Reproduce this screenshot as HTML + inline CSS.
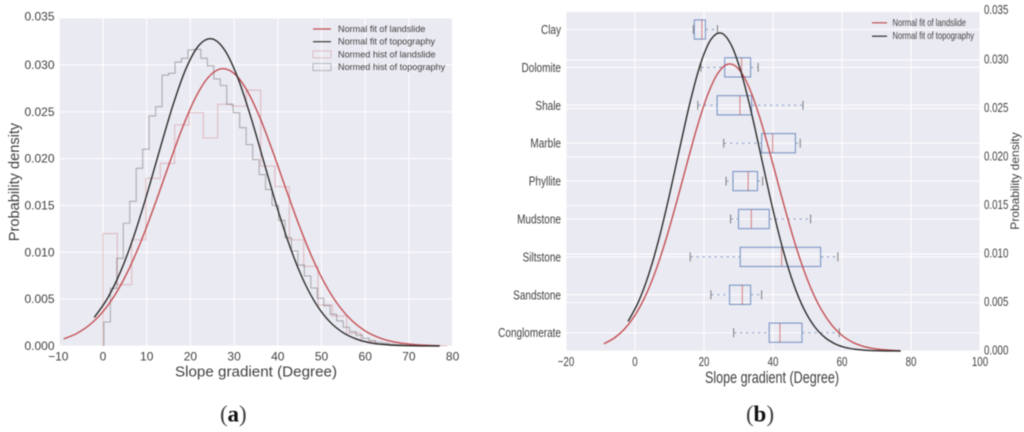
<!DOCTYPE html>
<html>
<head>
<meta charset="utf-8">
<style>
html,body{margin:0;padding:0;background:#fff;width:1024px;height:432px;overflow:hidden}
svg{display:block;filter:blur(0.5px)}
text{font-family:"Liberation Sans",sans-serif;fill:#3f3f3f}
</style>
</head>
<body>
<svg id="root" xmlns="http://www.w3.org/2000/svg" width="1024" height="432" viewBox="0 0 1024 432"></svg>
<script>
// Shared normal-fit curve readings
var topoCurveX = [-2,1,4,7,10,13,16,19,22,25,28,31,34,37,40,43,46,49,52,55,58,61,64,67,70,73,77];
var topoCurveY = [.00305,.00507,.00792,.01164,.01611,.02097,.02569,.02961,.03211,.03277,.03147,.02843,.02417,.01934,.01455,.01031,.00687,.00431,.00254,.00141,.00074,.00036,.00017,.00007,.00003,.00001,0];
var slideCurveX = [-9,-6,-3,0,3,6,9,12,15,18,21,24,27,30,33,36,39,42,45,48,51,54,57,60,63,66,69,72,75,77];
var slideCurveY = [.00075,.00134,.00228,.00368,.00566,.00828,.01153,.01527,.01924,.02308,.02635,.02862,.02958,.02909,.02723,.02426,.02056,.01658,.01273,.0093,.00646,.00427,.00269,.00161,.00092,.0005,.00026,.00013,.00006,.00003];

// Panel (a) histograms
var slideHistStart = 0;
var slideHistWidth = 3.28;
var slideHist = [.0120,.00654,.01134,.0179,.0195,.0236,.0249,.0222,.0258,.0256,.0273,.0192,.0170,.01134,.0085,.00438,.0032,.00135,.0005,.0002,.0001,.00005,.00003,.00002];
var topoHistStart = 0.2;
var topoHistWidth = 1.48;
var topoHist = [.00256,.00616,.00936,.0131,.01544,.01896,.0210,.02455,.02554,.0289,.0291,.0303,.0307,.0316,.03166,.0307,.0299,.0285,.0278,.0258,.0249,.0233,.0215,.0199,.0183,.0167,.0150,.0134,.01156,.01014,.00864,.00747,.00619,.00509,.0043,.00338,.00267,.0020,.00153,.00114,.00082,.00057,.0004,.0003,.0002,.00015,.0001,.00008,.00005,.00004,.00003,.00002];

// Panel tick labels
var aXTicks = [-10,0,10,20,30,40,50,60,70,80];
var bXTicks = [-20,0,20,40,60,80,100];
var densityTicks = [0,.005,.010,.015,.020,.025,.030,.035];

// Panel (b) boxplots
var lithology = ["Clay","Dolomite","Shale","Marble","Phyllite","Mudstone","Siltstone","Sandstone","Conglomerate"];
var whiskerLow = [16.9,19.1,18.2,25.7,26.4,27.7,16,22,28.6];
var quartile1 = [17.2,26,23.8,36.7,28.4,30,30.5,27.4,38.9];
var medians = [19.4,30.9,30.4,39.9,32.8,33.7,42.5,31.1,42];
var quartile3 = [20.4,33.5,33.8,46.5,35.5,38.9,53.8,33.5,48.4];
var whiskerHigh = [23.9,35.7,48.7,47.9,37,50.9,58.8,36.7,59.2];

var RED = "#c44e52", DARK = "#2b2b2b", BLUE = "#4c72b0";
var SERIF = '"Liberation Serif",serif';
var NS = "http://www.w3.org/2000/svg";
var root = document.getElementById("root");

function node(tag, attrs, name, parent) {
  var el = document.createElementNS(NS, tag);
  for (var k in attrs) el.setAttribute(k, attrs[k]);
  
  
  (parent || root).appendChild(el);
  return el;
}
function label(str, x, y, size, anchor, name, sx, rot) {
  var t = "translate(" + x + "," + y + ")" + (rot ? " rotate(" + rot + ")" : "") + " scale(" + (sx || 1) + ",1)";
  var el = node("text", {transform: t, "font-size": size, "text-anchor": anchor || "middle"}, name);
  el.textContent = str;
  return el;
}
function smooth(xs, ys, sx, sy) {
  var p = xs.map(function (x, i) { return [sx(x), sy(ys[i])]; });
  var d = "M" + p[0][0].toFixed(2) + " " + p[0][1].toFixed(2);
  for (var i = 0; i < p.length - 1; i++) {
    var a = p[i ? i - 1 : 0], b = p[i], c = p[i + 1], e = p[i + 2] || c;
    d += "C" + (b[0] + (c[0] - a[0]) / 6).toFixed(2) + " " + (b[1] + (c[1] - a[1]) / 6).toFixed(2) + " " +
      (c[0] - (e[0] - b[0]) / 6).toFixed(2) + " " + (c[1] - (e[1] - b[1]) / 6).toFixed(2) + " " +
      c[0].toFixed(2) + " " + c[1].toFixed(2);
  }
  return d;
}
function histPath(start, width, vals, sx, sy) {
  var d = "M" + sx(start).toFixed(2) + " " + sy(0).toFixed(2);
  vals.forEach(function (v, i) {
    d += "L" + sx(start + i * width).toFixed(2) + " " + sy(v).toFixed(2);
    d += "L" + sx(start + (i + 1) * width).toFixed(2) + " " + sy(v).toFixed(2);
  });
  d += "L" + sx(start + vals.length * width).toFixed(2) + " " + sy(0).toFixed(2);
  return d;
}

/* ---------- Panel (a) ---------- */
function ax(v) { return 103 + v * 4.37; }
function ay(v) { return 346 - v * 9370; }
node("rect", {x: 59.5, y: 18, width: 393.5, height: 328, fill: "#eaeaf2"}, "panel-a-plot-area");
aXTicks.forEach(function (t) {
  node("line", {x1: ax(t), x2: ax(t), y1: 18, y2: 346, stroke: "#fff", "stroke-width": 1}, "panel-a-x-gridline");
  label(String(t).replace("-", "\u2212"), ax(t) - (t < 0 ? 1 : 0), 360.5, 12, "middle", "panel-a-x-tick-label");
});
densityTicks.forEach(function (t) {
  node("line", {x1: 59.5, x2: 453, y1: ay(t), y2: ay(t), stroke: "#fff", "stroke-width": 1}, "panel-a-y-gridline");
  label(t.toFixed(3), 54.5, ay(t) + (t > .034 ? 2.2 : 4), 12, "end", "panel-a-y-tick-label");
});
node("path", {d: histPath(slideHistStart, slideHistWidth, slideHist, ax, ay), fill: "none", stroke: RED, "stroke-opacity": .3, "stroke-width": 1.1}, "landslide-histogram");
node("path", {d: histPath(topoHistStart, topoHistWidth, topoHist, ax, ay), fill: "none", stroke: "#333", "stroke-opacity": .35, "stroke-width": 1.1}, "topography-histogram");
node("path", {d: smooth(slideCurveX, slideCurveY, ax, ay), fill: "none", stroke: RED, "stroke-width": 1.4}, "landslide-normal-fit");
node("path", {d: smooth(topoCurveX, topoCurveY, ax, ay), fill: "none", stroke: DARK, "stroke-width": 1.4}, "topography-normal-fit");
label("Slope gradient (Degree)", 256, 376.5, 15.2, "middle", "panel-a-x-axis-title");
label("Probability density", 19, 182, 14.6, "middle", "panel-a-y-axis-title", 1, -90);

var legendA = ["Normal fit of landslide", "Normal fit of topography", "Normed hist of landslide", "Normed hist of topography"];
legendA.forEach(function (s, i) {
  var y = 29 + i * 12.7;
  if (i < 2) {
    node("line", {x1: 313, x2: 331, y1: y, y2: y, stroke: i ? DARK : RED, "stroke-width": 1.2}, "legend-a-line");
  } else {
    node("rect", {x: 313, y: y - 3.5, width: 18, height: 7, fill: "none", stroke: i === 2 ? RED : "#333", "stroke-opacity": .3, "stroke-width": 1}, "legend-a-swatch");
  }
  label(s, 338, y + 3, 9.1, "start", "legend-a-entry");
});
label("(", 220, 421.5, 23, "start", "panel-a-caption-open").style.fontFamily = SERIF;
var capA = label("a", 227.5, 421.5, 23, "start", "panel-a-caption-letter");
capA.style.fontFamily = SERIF; capA.style.fontWeight = "bold"; capA.style.fill = "#111";
label(")", 239, 421.5, 23, "start", "panel-a-caption-close").style.fontFamily = SERIF;

/* ---------- Panel (b) ---------- */
function bx(v) { return 635 + v * 3.45; }
function by(v) { return 351 - v * 9700; }
function catY(i) { return 29.5 + i * 37.9; }
node("rect", {x: 566, y: 11.3, width: 414, height: 339.7, fill: "#eaeaf2"}, "panel-b-plot-area");
bXTicks.forEach(function (t) {
  node("line", {x1: bx(t), x2: bx(t), y1: 11.3, y2: 351, stroke: "#fff", "stroke-width": 1}, "panel-b-x-gridline");
  label(String(t).replace("-", "\u2212"), bx(t), 366, 13, "middle", "panel-b-x-tick-label", 0.75);
});
densityTicks.forEach(function (t) {
  node("line", {x1: 566, x2: 980, y1: by(t), y2: by(t), stroke: "#fff", "stroke-width": 1}, "panel-b-density-gridline");
  label(t.toFixed(3), 984, by(t) + (t > .034 ? 2.5 : 3.7), 13, "start", "panel-b-y-tick-label", 0.75);
});
lithology.forEach(function (name, i) {
  var y = catY(i), hh = 9.6;
  node("line", {x1: 566, x2: 980, y1: y, y2: y, stroke: "#fff", "stroke-width": 1}, "panel-b-category-gridline");
  label(name, 561, y + 4.5, 13, "end", "lithology-label", 0.77);
  node("line", {x1: bx(whiskerLow[i]), x2: bx(quartile1[i]), y1: y, y2: y, stroke: BLUE, "stroke-opacity": .6, "stroke-width": 1, "stroke-dasharray": "3 3"}, "boxplot-lower-whisker");
  node("line", {x1: bx(quartile3[i]), x2: bx(whiskerHigh[i]), y1: y, y2: y, stroke: BLUE, "stroke-opacity": .6, "stroke-width": 1, "stroke-dasharray": "3 3"}, "boxplot-upper-whisker");
  node("line", {x1: bx(whiskerLow[i]), x2: bx(whiskerLow[i]), y1: y - 4.5, y2: y + 4.5, stroke: "#555", "stroke-opacity": .75, "stroke-width": 1}, "boxplot-lower-cap");
  node("line", {x1: bx(whiskerHigh[i]), x2: bx(whiskerHigh[i]), y1: y - 4.5, y2: y + 4.5, stroke: "#555", "stroke-opacity": .75, "stroke-width": 1}, "boxplot-upper-cap");
  node("rect", {x: bx(quartile1[i]), y: y - hh, width: bx(quartile3[i]) - bx(quartile1[i]), height: 2 * hh, fill: "none", stroke: BLUE, "stroke-opacity": .7, "stroke-width": 1.1}, "boxplot-box");
  node("line", {x1: bx(medians[i]), x2: bx(medians[i]), y1: y - hh, y2: y + hh, stroke: RED, "stroke-opacity": .7, "stroke-width": 1}, "boxplot-median");
});
node("path", {d: smooth(slideCurveX, slideCurveY, bx, by), fill: "none", stroke: RED, "stroke-width": 1.4}, "panel-b-landslide-normal-fit");
node("path", {d: smooth(topoCurveX, topoCurveY, bx, by), fill: "none", stroke: DARK, "stroke-width": 1.4}, "panel-b-topography-normal-fit");
label("Slope gradient (Degree)", 772, 383, 17, "middle", "panel-b-x-axis-title", 0.74);
label("Probability density", 1019, 181, 12, "middle", "panel-b-y-axis-title", 1, -90);

["Normal fit of landslide", "Normal fit of topography"].forEach(function (s, i) {
  var y = 22.8 + i * 13.4;
  node("line", {x1: 872, x2: 887, y1: y, y2: y, stroke: i ? DARK : RED, "stroke-width": 1.2}, "legend-b-line");
  label(s, 892.5, y + 3, 10, "start", "legend-b-entry", 0.765);
});
label("(", 746, 421.5, 23, "start", "panel-b-caption-open").style.fontFamily = SERIF;
var capB = label("b", 753.5, 421.5, 23, "start", "panel-b-caption-letter");
capB.style.fontFamily = SERIF; capB.style.fontWeight = "bold"; capB.style.fill = "#111";
label(")", 766.5, 421.5, 23, "start", "panel-b-caption-close").style.fontFamily = SERIF;
</script>
</body>
</html>
